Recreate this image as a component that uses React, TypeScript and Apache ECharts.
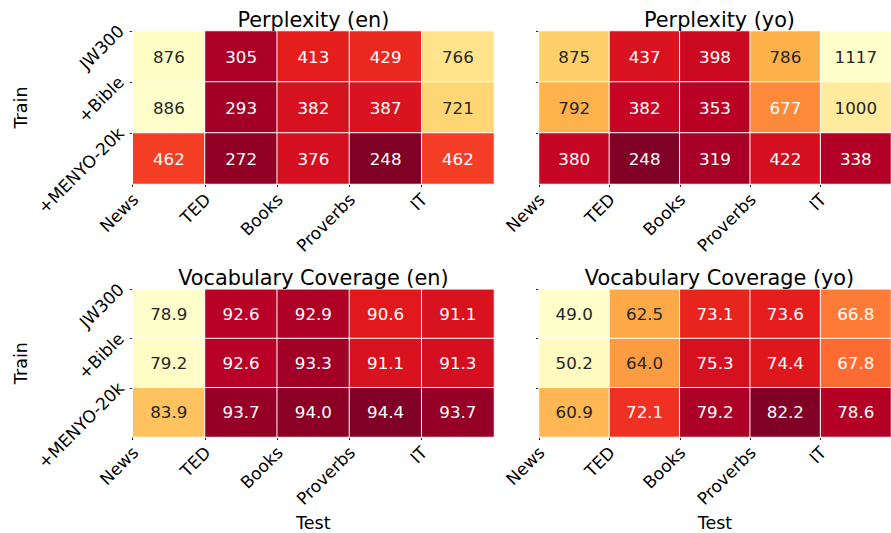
import React, { useEffect, useRef } from 'react';
import * as echarts from 'echarts';

// ---- data ----
const testDomains = ['News', 'TED', 'Books', 'Proverbs', 'IT'];
const trainSets = ['JW300', '+Bible', '+MENYO-20k'];

const perplexityEn = [
  [876, 305, 413, 429, 766],
  [886, 293, 382, 387, 721],
  [462, 272, 376, 248, 462],
];
const perplexityYo = [
  [875, 437, 398, 786, 1117],
  [792, 382, 353, 677, 1000],
  [380, 248, 319, 422, 338],
];
const coverageEn = [
  [78.9, 92.6, 92.9, 90.6, 91.1],
  [79.2, 92.6, 93.3, 91.1, 91.3],
  [83.9, 93.7, 94.0, 94.4, 93.7],
];
const coverageYo = [
  [49.0, 62.5, 73.1, 73.6, 66.8],
  [50.2, 64.0, 75.3, 74.4, 67.8],
  [60.9, 72.1, 79.2, 82.2, 78.6],
];
const panelTitles = ['Perplexity (en)', 'Perplexity (yo)', 'Vocabulary Coverage (en)', 'Vocabulary Coverage (yo)'];

// ---- styling ----
const YLORRD = ['#ffffcc', '#ffeda0', '#fed976', '#feb24c', '#fd8d3c', '#fc4e2a', '#e31a1c', '#bd0026', '#800026'];
const FONT = 'DejaVu Sans';

function hexToRgb(h: string) {
  return [parseInt(h.slice(1, 3), 16), parseInt(h.slice(3, 5), 16), parseInt(h.slice(5, 7), 16)];
}
function cmap(t: number, reverse: boolean) {
  const cols = reverse ? [...YLORRD].reverse() : YLORRD;
  const p = Math.max(0, Math.min(1, t)) * (cols.length - 1);
  const i = Math.min(cols.length - 2, Math.floor(p));
  const f = p - i;
  const a = hexToRgb(cols[i]);
  const b = hexToRgb(cols[i + 1]);
  return a.map((v, k) => v + (b[k] - v) * f);
}
function luminance(rgb: number[]) {
  const c = rgb.map((v) => {
    const s = v / 255;
    return s <= 0.03928 ? s / 12.92 : Math.pow((s + 0.055) / 1.055, 2.4);
  });
  return 0.2126 * c[0] + 0.7152 * c[1] + 0.0722 * c[2];
}

const panels = [
  { values: perplexityEn, reverse: true, decimals: 0, grid: { left: 132.7, top: 31, width: 361.3, height: 153 }, yLabels: true, xName: false },
  { values: perplexityYo, reverse: true, decimals: 0, grid: { left: 539, top: 31, width: 361, height: 153 }, yLabels: false, xName: false },
  { values: coverageEn, reverse: false, decimals: 1, grid: { left: 132.7, top: 289.3, width: 361.3, height: 153 }, yLabels: true, xName: true },
  { values: coverageYo, reverse: false, decimals: 1, grid: { left: 539, top: 289.3, width: 361, height: 153 }, yLabels: false, xName: true },
];

export default function App() {
  const ref = useRef<HTMLDivElement>(null);
  useEffect(() => {
    document.body.style.margin = '0';
    const chart = echarts.init(ref.current!, undefined, { renderer: 'svg' });

    const grids: any[] = [];
    const xAxes: any[] = [];
    const yAxes: any[] = [];
    const series: any[] = [];
    const visualMaps: any[] = [];
    const titles: any[] = [];

    panels.forEach((p, k) => {
      grids.push({ ...p.grid, containLabel: false });
      const flat = p.values.flat();
      const mn = Math.min(...flat);
      const mx = Math.max(...flat);
      titles.push({
        text: panelTitles[k],
        left: p.grid.left + p.grid.width / 2,
        top: p.grid.top - 22,
        padding: 0,
        textAlign: 'center',
        textStyle: { fontFamily: FONT, fontSize: 20.8, fontWeight: 'normal', color: '#000' },
      });
      xAxes.push({
        type: 'category', gridIndex: k, data: testDomains, show: false,
      });
      xAxes.push({
        type: 'value', gridIndex: k, min: 0, max: testDomains.length, position: 'bottom',
        axisLine: { show: false }, splitLine: { show: false },
        axisTick: { show: true, length: 3, lineStyle: { color: '#262626', width: 1 }, customValues: testDomains.map((_, i) => i) },
        axisLabel: {
          show: true, rotate: 45, margin: 10, align: 'right', verticalAlign: 'top', lineHeight: 7,
          fontFamily: FONT, fontSize: 17, color: '#000',
          customValues: testDomains.map((_, i) => i),
          formatter: (v: number) => testDomains[Math.round(v)] ?? '',
        },
        name: p.xName ? 'Test' : '', nameLocation: 'middle', nameGap: 77,
        nameTextStyle: { fontFamily: FONT, fontSize: 17.5, color: '#000' },
      });
      yAxes.push({
        type: 'category', gridIndex: k, data: trainSets, inverse: true, show: false,
      });
      yAxes.push({
        type: 'value', gridIndex: k, min: 0, max: trainSets.length, inverse: true, position: 'left',
        axisLine: { show: false }, splitLine: { show: false },
        axisTick: { show: true, length: 3, lineStyle: { color: '#262626', width: 1 }, customValues: trainSets.map((_, i) => i) },
        axisLabel: {
          show: p.yLabels, rotate: 45, margin: 9, verticalAlign: 'bottom', lineHeight: 8,
          fontFamily: FONT, fontSize: 17, color: '#000',
          customValues: trainSets.map((_, i) => i),
          formatter: (v: number) => trainSets[Math.round(v)] ?? '',
        },
        name: p.yLabels ? 'Train' : '', nameLocation: 'middle', nameGap: 103, nameRotate: 90,
        nameTextStyle: { fontFamily: FONT, fontSize: 17.5, color: '#000' },
      });
      const data: any[] = [];
      p.values.forEach((row, yi) => {
        row.forEach((v, xi) => {
          const rgb = cmap((v - mn) / (mx - mn), p.reverse);
          const dark = luminance(rgb) > 0.408;
          data.push({ value: [xi, yi, v], label: { color: dark ? '#262626' : '#ffffff' } });
        });
      });
      series.push({
        type: 'heatmap', xAxisIndex: 2 * k, yAxisIndex: 2 * k, data,
        itemStyle: { borderColor: '#ffffff', borderWidth: 1 },
        label: {
          show: true, fontFamily: FONT, fontSize: 16.7,
          formatter: (prm: any) => Number(prm.value[2]).toFixed(p.decimals),
        },
        emphasis: { disabled: true },
      });
      visualMaps.push({
        type: 'continuous', show: false, seriesIndex: k, dimension: 2, min: mn, max: mx,
        inRange: { color: p.reverse ? [...YLORRD].reverse() : YLORRD },
      });
    });

    chart.setOption({
      animation: false,
      backgroundColor: '#ffffff',
      textStyle: { fontFamily: FONT },
      title: titles,
      grid: grids,
      xAxis: xAxes,
      yAxis: yAxes,
      visualMap: visualMaps,
      series,
    });
    return () => chart.dispose();
  }, []);
  return <div ref={ref} style={{ width: 891, height: 533, overflow: 'hidden' }} />;
}
